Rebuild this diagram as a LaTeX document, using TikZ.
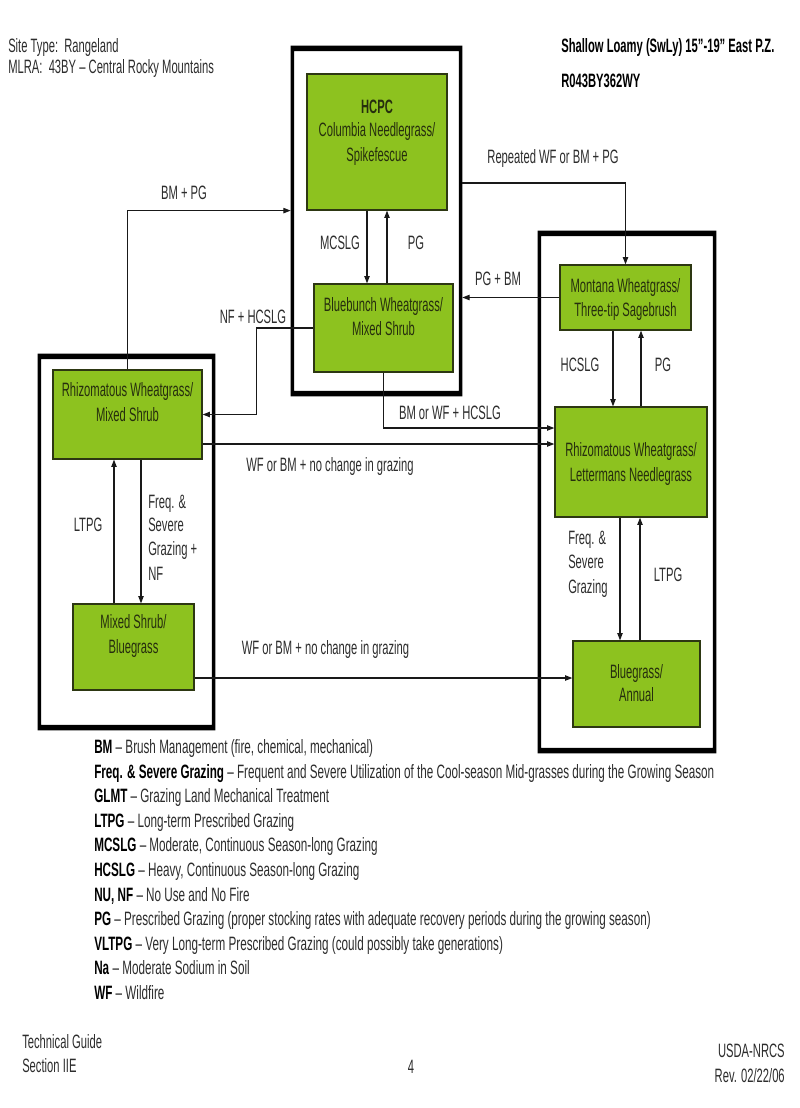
\documentclass[tikz,border=0pt]{standalone}
\usepackage{fontspec}
\setmainfont{Liberation Sans}[FakeStretch=0.58]
\newfontfamily\legendfont{Liberation Sans}[FakeStretch=0.605]
\usetikzlibrary{arrows.meta,fit,calc}
\definecolor{gfill}{RGB}{141,194,31}
\definecolor{gline}{RGB}{45,55,18}
\definecolor{gtext}{RGB}{38,46,14}
\definecolor{ltext}{RGB}{45,45,45}
\definecolor{conn}{RGB}{25,25,25}
\begin{document}
\begin{tikzpicture}[x=0.75pt,y=-0.75pt,
  gbox/.style={draw=gline, line width=0.9pt, fill=gfill, inner sep=0pt},
  outerbox/.style={inner sep=0pt},
  lbl/.style={anchor=base, text=ltext, font=\fontsize{14.5}{17}\selectfont, inner sep=0pt},
  lbll/.style={lbl, anchor=base west},
  lblr/.style={lbl, anchor=base east},
  btext/.style={lbl, text=gtext},
  legend/.style={lbll, font=\legendfont\fontsize{14.5}{17}\selectfont},
  arr/.style={draw=conn, line width=0.85pt, -{Triangle[length=5.5pt,width=4pt]}},
]
\fill[white] (0,0) rectangle (800,1108);
\useasboundingbox (0,0) rectangle (800,1108);

% header
\node[lbll] (site) at (8,52) {Site Type:\ \ Rangeland};
\node[lbll] (mlra) at (8,73.5) {MLRA:\ \ 43BY – Central Rocky Mountains};
\node[lbll, text=black] (title) at (561,52.5) {\textbf{Shallow Loamy (SwLy) 15”-19” East P.Z.}};
\node[lbll, text=black] (code) at (561,87.5) {\textbf{R043BY362WY}};

% outer frames
\node[outerbox, fit={(291,46) (462,396)}] (hcpcframe) {};
\node[outerbox, fit={(538,231) (716,753)}] (rightframe) {};
\node[outerbox, fit={(38,354) (215,730)}] (leftframe) {};
\foreach \f in {hcpcframe,rightframe,leftframe}{
  \fill[black, even odd rule] (\f.north west) rectangle (\f.south east)
    ($(\f.north west)+(3.5,5.5)$) rectangle ($(\f.south east)+(-3.5,-5.5)$);
}

% state boxes
\node[gbox, fit={(307,74) (447,210)}] (hcpc) {};
\node[gbox, fit={(314,284) (453,372)}] (bluebunch) {};
\node[gbox, fit={(560,265) (691,330)}] (montana) {};
\node[gbox, fit={(555,407) (707,517)}] (rhizlett) {};
\node[gbox, fit={(573,641) (700,727)}] (bluegrass) {};
\node[gbox, fit={(53,370) (202,459)}] (rhizmix) {};
\node[gbox, fit={(73,604) (194,690)}] (mixshrub) {};

% state texts
\node[btext] (hcpc-a) at (377,113.5) {\textbf{HCPC}};
\node[btext] (hcpc-b) at (377,136.5) {Columbia Needlegrass/};
\node[btext] (hcpc-c) at (377,161.5) {Spikefescue};
\node[btext] (bluebunch-a) at (383.5,311.5) {Bluebunch Wheatgrass/};
\node[btext] (bluebunch-b) at (383.5,335.5) {Mixed Shrub};
\node[btext] (montana-a) at (625.5,292.5) {Montana Wheatgrass/};
\node[btext] (montana-b) at (625.5,316.5) {Three-tip Sagebrush};
\node[btext] (rhizlett-a) at (631,456.5) {Rhizomatous Wheatgrass/};
\node[btext] (rhizlett-b) at (631,481.5) {Lettermans Needlegrass};
\node[btext] (bluegrass-a) at (636.5,678.5) {Bluegrass/};
\node[btext] (bluegrass-b) at (636.5,701.5) {Annual};
\node[btext] (rhizmix-a) at (127.5,396.5) {Rhizomatous Wheatgrass/};
\node[btext] (rhizmix-b) at (127.5,421.5) {Mixed Shrub};
\node[btext] (mixshrub-a) at (133.5,628.5) {Mixed Shrub/};
\node[btext] (mixshrub-b) at (133.5,653.5) {Bluegrass};

% connectors
\draw[arr] (rhizmix.north) |- (hcpcframe.west |- hcpc.south);
\draw[arr] (hcpcframe.east |- 0,183) -| (montana.north);
\draw[arr] (montana.west) -- (montana.west -| hcpcframe.east);
\draw[arr] (bluebunch.west) -- ++(-57,0) |- (rhizmix.east);
\draw[arr] (bluebunch.south) |- (rhizlett.west |- 0,428);
\draw[arr] (rhizmix.east |- 0,444) -- (rhizlett.west |- 0,444);
\draw[arr] (mixshrub.east |- 0,678) -- (bluegrass.west |- 0,678);
\draw[arr] (hcpc.south -| 367,0) -- (bluebunch.north -| 367,0);
\draw[arr] (bluebunch.north -| 387,0) -- (hcpc.south -| 387,0);
\draw[arr] (montana.south -| 613,0) -- (rhizlett.north -| 613,0);
\draw[arr] (rhizlett.north -| 641,0) -- (montana.south -| 641,0);
\draw[arr] (rhizlett.south -| 620,0) -- (bluegrass.north -| 620,0);
\draw[arr] (bluegrass.north -| 640,0) -- (rhizlett.south -| 640,0);
\draw[arr] (mixshrub.north -| 114,0) -- (rhizmix.south -| 114,0);
\draw[arr] (rhizmix.south -| 141,0) -- (mixshrub.north -| 141,0);

% connector labels
\node[lbl] (l1) at (184,199.5) {BM + PG};
\node[lbl] (l2) at (553,163.5) {Repeated WF or BM + PG};
\node[lbl] (l3) at (340,249.5) {MCSLG};
\node[lbl] (l4) at (416,249.5) {PG};
\node[lbl] (l5) at (498,285.5) {PG + BM};
\node[lbl] (l6) at (253,323.5) {NF + HCSLG};
\node[lbl] (l7) at (580,371.5) {HCSLG};
\node[lbl] (l8) at (663,371.5) {PG};
\node[lbl] (l9) at (450,419.5) {BM or WF + HCSLG};
\node[lbl] (l10) at (330,471.5) {WF or BM + no change in grazing};
\node[lbl] (l11) at (325.5,654.5) {WF or BM + no change in grazing};
\node[lbl] (l12) at (88,531.5) {LTPG};
\node[lbll] (l13a) at (148,508.5) {Freq. \&};
\node[lbll] (l13b) at (148,531.5) {Severe};
\node[lbll] (l13c) at (148,555.5) {Grazing +};
\node[lbll] (l13d) at (148,580.5) {NF};
\node[lbll] (l14a) at (568,544.5) {Freq. \&};
\node[lbll] (l14b) at (568,568.5) {Severe};
\node[lbll] (l14c) at (568,593.5) {Grazing};
\node[lbl] (l15) at (668,581.5) {LTPG};

% legend
\node[legend] (g1) at (94,753.5) {\textcolor{black}{\textbf{BM}} – Brush Management (fire, chemical, mechanical)};
\node[legend] (g2) at (94,778.1) {\textcolor{black}{\textbf{Freq. \& Severe Grazing}} – Frequent and Severe Utilization of the Cool-season Mid-grasses during the Growing Season};
\node[legend] (g3) at (94,802.7) {\textcolor{black}{\textbf{GLMT}} – Grazing Land Mechanical Treatment};
\node[legend] (g4) at (94,827.3) {\textcolor{black}{\textbf{LTPG}} – Long-term Prescribed Grazing};
\node[legend] (g5) at (94,851.9) {\textcolor{black}{\textbf{MCSLG}} – Moderate, Continuous Season-long Grazing};
\node[legend] (g6) at (94,876.5) {\textcolor{black}{\textbf{HCSLG}} – Heavy, Continuous Season-long Grazing};
\node[legend] (g7) at (94,901.1) {\textcolor{black}{\textbf{NU, NF}} – No Use and No Fire};
\node[legend] (g8) at (94,925.7) {\textcolor{black}{\textbf{PG}} – Prescribed Grazing (proper stocking rates with adequate recovery periods during the growing season)};
\node[legend] (g9) at (94,950.3) {\textcolor{black}{\textbf{VLTPG}} – Very Long-term Prescribed Grazing (could possibly take generations)};
\node[legend] (g10) at (94,974.9) {\textcolor{black}{\textbf{Na}} – Moderate Sodium in Soil};
\node[legend] (g11) at (94,999.5) {\textcolor{black}{\textbf{WF}} – Wildfire};

% footer
\node[lbll] (f1) at (22,1048.5) {Technical Guide};
\node[lbll] (f2) at (22,1072.5) {Section IIE};
\node[lbl] (f3) at (411,1073) {4};
\node[lblr] (f4) at (785,1057.5) {USDA-NRCS};
\node[lblr] (f5) at (785,1082.5) {Rev. 02/22/06};
\end{tikzpicture}
\end{document}
